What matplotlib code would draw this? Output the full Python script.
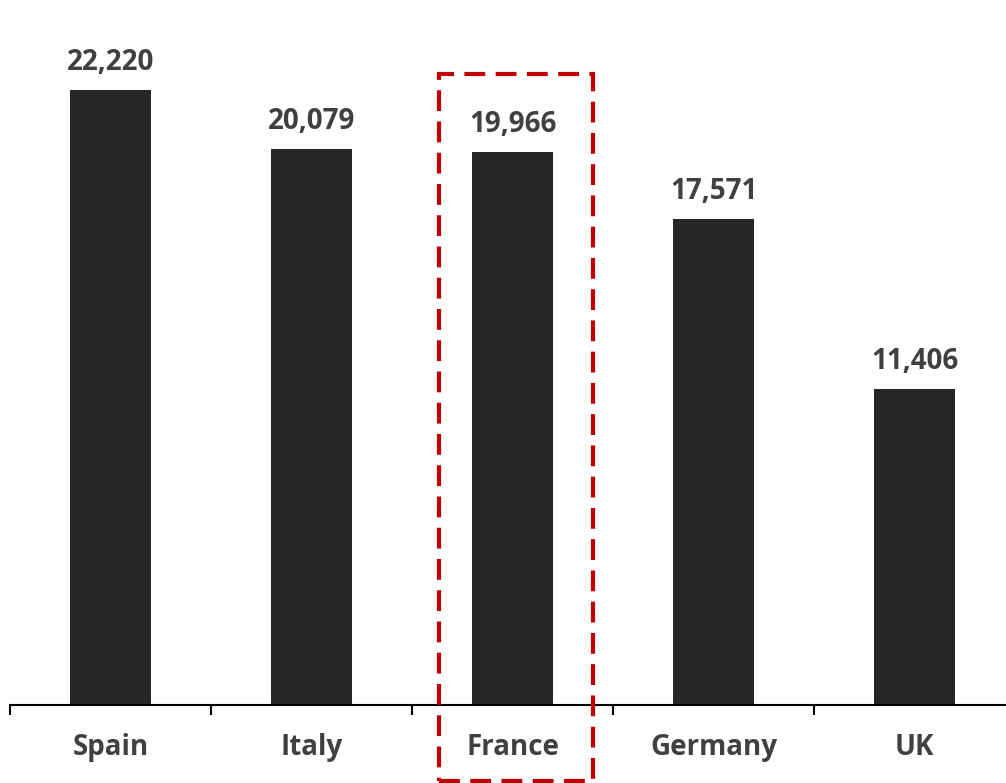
import matplotlib
matplotlib.use("Agg")
import matplotlib.pyplot as plt
from matplotlib.patches import Rectangle

# Data
countries = ['Spain', 'Italy', 'France', 'Germany', 'UK']
values = [22220, 20079, 19966, 17571, 11406]

plt.rcParams['font.family'] = ['Open Sans', 'DejaVu Sans']

fig = plt.figure(figsize=(10.06, 7.83), dpi=100)
ax = fig.add_axes([10 / 1006, 78 / 783, 1005 / 1006, 692 / 783])

x = range(len(countries))
ax.bar(x, values, width=0.4, color='#262626')

for xi, v in zip(x, values):
    ax.annotate(f'{v:,}', (xi, v), xytext=(0, 14.4), textcoords='offset points',
                ha='center', va='baseline', fontsize=20, fontweight='bold',
                color='#404040')

ax.set_xlim(-0.5, 4.5)
ax.set_ylim(0, 25000)
ax.set_xticks(x)
ax.set_xticklabels(countries, fontsize=20, fontweight='bold', color='#404040')
ax.set_xticks([i - 0.5 for i in range(6)], minor=True)
ax.tick_params(axis='x', which='major', length=0, pad=20)
ax.tick_params(axis='x', which='minor', length=7.5, width=1.5, direction='out',
               color='black')
ax.set_yticks([])
for side in ['top', 'right', 'left']:
    ax.spines[side].set_visible(False)
ax.spines['bottom'].set_linewidth(1.5)
ax.spines['bottom'].set_color('black')

# Highlight box around France
box = Rectangle((439 / 1006, 1 - 781 / 783), (593 - 439) / 1006, (781 - 74) / 783,
                transform=fig.transFigure, fill=False, edgecolor='#C00000',
                linewidth=3, linestyle=(0, (5, 2.5)), clip_on=False)
fig.patches.append(box)

fig.savefig('out.png', dpi=100)
